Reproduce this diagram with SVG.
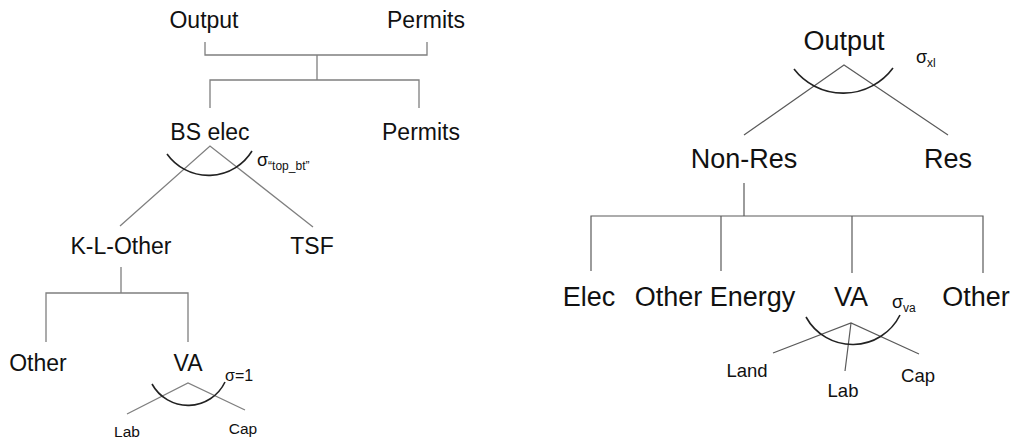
<svg xmlns="http://www.w3.org/2000/svg" width="1016" height="442" viewBox="0 0 1016 442">
<style>
text{font-family:"Liberation Sans",Arial,sans-serif;fill:#111;text-anchor:middle}
.l{font-size:23px}
.r{font-size:27px}
.s{font-size:15.5px}
.rs{font-size:18.5px}
.sig{text-anchor:start}
.ln{fill:none;stroke:#7f7f7f;stroke-width:1.3}
.lr{fill:none;stroke:#5a5a5a;stroke-width:1.2}
.arc{fill:none;stroke:#222;stroke-width:1.6}
</style>
<rect width="1016" height="442" fill="#fff"/>
<g id="connectors">
<path class="ln" d="M205,42V55H427V42M317,55V80M210,108V80H419V108"/>
<path class="ln" d="M120,226L210,146L313,227"/>
<path class="ln" d="M121,267V293M46,342V293H188V342"/>
<path class="ln" d="M127,414L188,383L245,410"/>
<path class="lr" d="M744,135L844,65L948,135"/>
<path class="lr" d="M744,183V216M591,271V216H983V273M721,216V271M852,216V273"/>
<path class="lr" d="M773,353L851,323L919,354M851,323L845,371"/>
<path class="arc" d="M167,154A51,51 0 0 0 252,151"/>
<path class="arc" d="M152,384A41,41 0 0 0 225,382"/>
<path class="arc" d="M794,69A62,62 0 0 0 893,68"/>
<path class="arc" d="M806,317A53,53 0 0 0 900,315"/>
</g>
<g id="l-output"><text class="l" x="204" y="28">Output</text></g>
<g id="l-permits-top"><text class="l" x="426" y="28">Permits</text></g>
<g id="l-bselec"><text class="l" x="210" y="140">BS elec</text></g>
<g id="l-permits"><text class="l" x="421" y="140">Permits</text></g>
<g id="l-sigma-top"><text class="sig" x="257" y="166" style="font-size:18px">σ<tspan style="font-size:12px" dy="4">“top_bt”</tspan></text></g>
<g id="l-klother"><text class="l" x="121" y="254">K-L-Other</text></g>
<g id="l-tsf"><text class="l" x="312" y="254">TSF</text></g>
<g id="l-other"><text class="l" x="38" y="371">Other</text></g>
<g id="l-va"><text class="l" x="188" y="371">VA</text></g>
<g id="l-sigma1"><text class="sig" x="225" y="381" style="font-size:16px">σ=1</text></g>
<g id="l-lab"><text class="s" x="127" y="437">Lab</text></g>
<g id="l-cap"><text class="s" x="243" y="434">Cap</text></g>
<g id="r-output"><text class="r" x="844" y="50">Output</text></g>
<g id="r-sigma-xl"><text class="sig" x="916" y="63" style="font-size:18px">σ<tspan style="font-size:12px" dy="4">xl</tspan></text></g>
<g id="r-nonres"><text class="r" x="744" y="168">Non-Res</text></g>
<g id="r-res"><text class="r" x="948" y="168">Res</text></g>
<g id="r-elec"><text class="r" x="589" y="306">Elec</text></g>
<g id="r-otherenergy"><text class="r" x="715" y="306">Other Energy</text></g>
<g id="r-va"><text class="r" x="851" y="306">VA</text></g>
<g id="r-sigma-va"><text class="sig" x="892" y="308" style="font-size:18px">σ<tspan style="font-size:12px" dy="4">va</tspan></text></g>
<g id="r-other"><text class="r" x="976" y="306">Other</text></g>
<g id="r-land"><text class="rs" x="747" y="377">Land</text></g>
<g id="r-lab"><text class="rs" x="843" y="397">Lab</text></g>
<g id="r-cap"><text class="rs" x="918" y="382">Cap</text></g>
</svg>
